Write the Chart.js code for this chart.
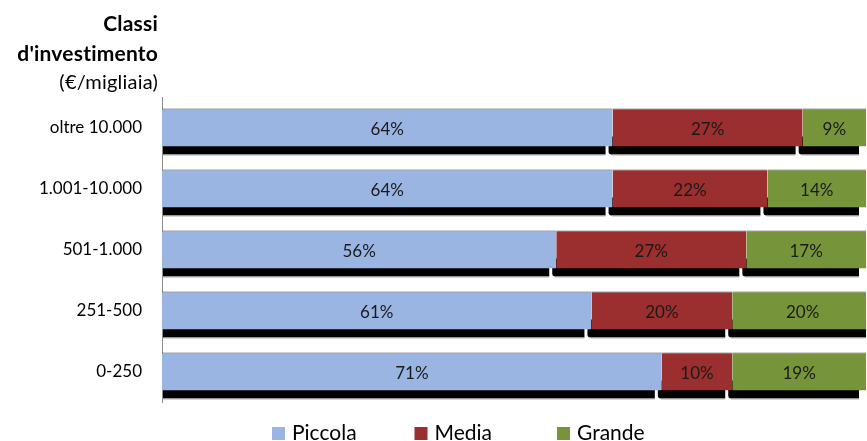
<!DOCTYPE html>
<html lang="it">
<head>
<meta charset="utf-8">
<script src="https://cdn.jsdelivr.net/npm/chart.js@4"></script>
<style>
  html, body { margin: 0; padding: 0; background: #fff; }
  #wrap { width: 867px; height: 441px; position: relative; }
</style>
</head>
<body>
<div id="wrap"><canvas id="chart"></canvas></div>
<script>
const classi = ["oltre 10.000", "1.001-10.000", "501-1.000", "251-500", "0-250"];
const piccola = [64, 64, 56, 61, 71];
const media = [27, 22, 27, 20, 10];
const grande = [9, 14, 17, 20, 19];
const titolo = ["Classi", "d'investimento", "(€/migliaia)"];

const FONT = "Lato, 'Liberation Sans', sans-serif";

// black strip under every segment, slightly shifted to the left
const barShadow = {
  id: "barShadow",
  beforeDatasetsDraw(chart) {
    const { ctx, chartArea } = chart;
    ctx.save();
    ctx.beginPath();
    ctx.rect(chartArea.left + 1, chartArea.top, chartArea.right - chartArea.left, chartArea.bottom - chartArea.top + 20);
    ctx.clip();
    chart.data.datasets.forEach((ds, i) => {
      chart.getDatasetMeta(i).data.forEach((bar) => {
        const p = bar.getProps(["x", "y", "base", "height"], true);
        const left = Math.min(p.base, p.x) - 4;
        const right = Math.max(p.base, p.x) - 7;
        const bottom = p.y + p.height / 2;
        ctx.fillStyle = "#000";
        ctx.beginPath();
        ctx.roundRect(left, bottom - 10, right - left, 18, [0, 0, 0, 3]);
        ctx.fill();
        ctx.fillStyle = "#b5b5b5";
        ctx.fillRect(left + 3, bottom + 8, right - left - 3, 1);
      });
    });
    ctx.restore();
  }
};

// percentage written in the middle of each segment
const segmentLabels = {
  id: "segmentLabels",
  afterDatasetsDraw(chart) {
    const { ctx } = chart;
    ctx.save();
    ctx.font = "17px " + FONT;
    ctx.fillStyle = "#1a1a1a";
    ctx.textAlign = "center";
    ctx.textBaseline = "middle";
    chart.data.datasets.forEach((ds, i) => {
      chart.getDatasetMeta(i).data.forEach((bar, j) => {
        const p = bar.getProps(["x", "y", "base"], true);
        ctx.fillText(ds.data[j] + "%", (p.base + p.x) / 2, p.y + 2);
      });
    });
    ctx.restore();
  }
};

// axis title above the category labels
const axisTitle = {
  id: "axisTitle",
  afterDraw(chart) {
    const { ctx } = chart;
    ctx.save();
    ctx.fillStyle = "#000";
    ctx.textAlign = "right";
    ctx.textBaseline = "alphabetic";
    // a tiny spacing keeps Lato from joining "ti" into a ligature
    ctx.letterSpacing = "0.2px";
    ctx.font = "bold 21px " + FONT;
    ctx.fillText(titolo[0], 158, 31);
    ctx.fillText(titolo[1], 158, 61);
    ctx.font = "20px " + FONT;
    ctx.fillText(titolo[2], 158, 89);
    ctx.restore();
  }
};

// legend row under the plot, fixed-width slots
const bottomLegend = {
  id: "bottomLegend",
  afterDraw(chart) {
    const { ctx } = chart;
    ctx.save();
    ctx.font = "21px " + FONT;
    ctx.textBaseline = "alphabetic";
    ctx.textAlign = "left";
    chart.data.datasets.forEach((ds, i) => {
      const x = 272 + i * 142.5;
      ctx.fillStyle = ds.backgroundColor;
      ctx.fillRect(x, 427, 13, 13);
      ctx.fillStyle = "#000";
      ctx.fillText(ds.label, x + 20, 440);
    });
    ctx.restore();
  }
};

const common = {
  borderWidth: { top: 1, right: 0, bottom: 0, left: 0 },
  borderSkipped: false,
  borderColor: "#4a4a4a",
  barPercentage: 0.625,
  categoryPercentage: 1
};

new Chart(document.getElementById("chart"), {
  type: "bar",
  data: {
    labels: classi,
    datasets: [
      { label: "Piccola", data: piccola, backgroundColor: "#9AB5E2", ...common },
      { label: "Media", data: media, backgroundColor: "#9B2E2E", ...common },
      { label: "Grande", data: grande, backgroundColor: "#76953A", ...common }
    ]
  },
  options: {
    indexAxis: "y",
    responsive: true,
    maintainAspectRatio: false,
    animation: false,
    layout: { padding: { top: 97, bottom: 39, left: 0, right: 1 } },
    plugins: { legend: { display: false }, tooltip: { enabled: false } },
    scales: {
      x: { stacked: true, min: 0, max: 100, display: false },
      y: {
        stacked: true,
        afterFit: (scale) => { scale.width = 162; },
        grid: { drawOnChartArea: false, drawTicks: false },
        border: { display: true, color: "#8c8c8c", width: 1 },
        ticks: { color: "#000", padding: 20, font: { family: FONT, size: 17 } }
      }
    }
  },
  plugins: [barShadow, segmentLabels, axisTitle, bottomLegend]
});
</script>
</body>
</html>
